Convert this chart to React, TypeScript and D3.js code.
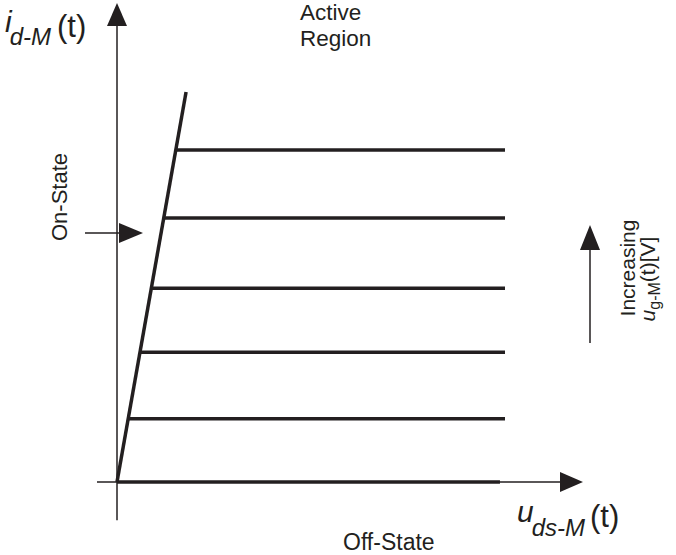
import React from "react";
import * as d3 from "d3";

// Characteristic levels (% of full scale current) for increasing gate voltage
const levels = [16.2, 33.3, 49.7, 67.7, 85.1];
const lineEnd = 100; // % of drain-source voltage range where curves stop
const offStateEnd = 98.7;
const diagonalTop = { x: 17.8, y: 100 };

const W = 676;
const H = 555;
const ink = "#231f20";

export default function App() {
  const x = d3.scaleLinear().domain([0, 100]).range([117, 505]);
  const y = d3.scaleLinear().domain([0, 100]).range([482, 92]);
  const diagX = (v: number) => (v / diagonalTop.y) * diagonalTop.x;

  const line = d3
    .line<[number, number]>()
    .x((d) => x(d[0]))
    .y((d) => y(d[1]));

  const font = "Arial, 'Liberation Sans', sans-serif";

  return (
    <svg
      width={W}
      height={H}
      style={{ position: "absolute", left: 0, top: 0, background: "#fff" }}
      fontFamily={font}
    >
      {/* vertical axis */}
      <line x1={x(0)} y1={y(-9.8)} x2={x(0)} y2={20} stroke={ink} strokeWidth={1.5} />
      <polygon points={`${x(0)},3 ${x(0) - 10},26 ${x(0) + 10},26`} fill={ink} />
      {/* horizontal axis */}
      <line x1={97} y1={y(0)} x2={565} y2={y(0)} stroke={ink} strokeWidth={1.5} />
      <polygon
        points={`583,${y(0)} 560,${y(0) - 10} 560,${y(0) + 10}`}
        fill={ink}
      />
      {/* off-state thick line */}
      <path
        d={line([
          [0, 0],
          [offStateEnd, 0],
        ]) as string}
        stroke={ink}
        strokeWidth={3.5}
        fill="none"
      />
      {/* diagonal (ohmic) line */}
      <path
        d={line([
          [0, 0],
          [diagonalTop.x, diagonalTop.y],
        ]) as string}
        stroke={ink}
        strokeWidth={3.5}
        fill="none"
      />
      {/* active region curves */}
      {levels.map((v, i) => (
        <path
          key={i}
          d={line([
            [diagX(v), v],
            [lineEnd, v],
          ]) as string}
          stroke={ink}
          strokeWidth={3.5}
          fill="none"
        />
      ))}
      {/* On-State arrow */}
      <line x1={85} y1={233} x2={125} y2={233} stroke={ink} strokeWidth={1.5} />
      <polygon points="143,233 119,223 119,243" fill={ink} />
      <text
        transform="translate(67,197) rotate(-90)"
        textAnchor="middle"
        fontSize={22}
        fill={ink}
      >
        On-State
      </text>
      {/* Increasing arrow */}
      <line x1={590} y1={343} x2={590} y2={245} stroke={ink} strokeWidth={1.5} />
      <polygon points="590,225 580,250 600,250" fill={ink} />
      <text
        transform="translate(635,268) rotate(-90)"
        textAnchor="middle"
        fontSize={21}
        fill={ink}
      >
        Increasing
      </text>
      <text
        transform="translate(655,279) rotate(-90)"
        textAnchor="middle"
        fontSize={21}
        fill={ink}
      >
        <tspan fontStyle="italic">u</tspan>
        <tspan fontSize={16} dy={5}>g-M</tspan>
        <tspan dy={-5}>(t)[V]</tspan>
      </text>
      {/* Active Region label */}
      <text x={300} y={20} fontSize={22.5} fill={ink}>
        Active
      </text>
      <text x={300} y={46} fontSize={22.5} fill={ink}>
        Region
      </text>
      {/* Off-State label */}
      <text x={343} y={550} fontSize={23} fill={ink}>
        Off-State
      </text>
      {/* y label */}
      <text x={5} y={32} fill={ink}>
        <tspan fontStyle="italic" fontSize={30}>i</tspan>
        <tspan fontStyle="italic" fontSize={24} dx={-2} dy={13}>d-M</tspan>
        <tspan fontSize={31} dx={6} dy={-8}>(t)</tspan>
      </text>
      {/* x label */}
      <text x={517} y={522} fill={ink}>
        <tspan fontStyle="italic" fontSize={30}>u</tspan>
        <tspan fontStyle="italic" fontSize={24} dx={-2} dy={14}>ds-M</tspan>
        <tspan fontSize={31} dx={5} dy={-9}>(t)</tspan>
      </text>
    </svg>
  );
}
